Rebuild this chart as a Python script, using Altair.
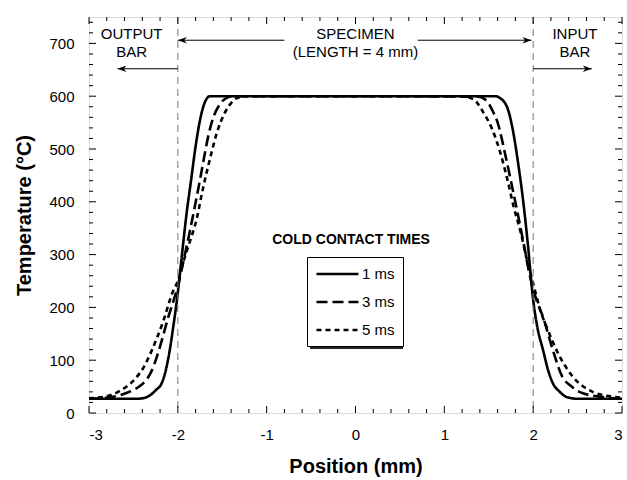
import altair as alt
import pandas as pd

FONT = "Liberation Sans"

# ---- data ----
series_names = ["1 ms", "3 ms", "5 ms"]

s1_x = [-3.0, -2.6, -2.45, -2.37, -2.3, -2.25, -2.18, -2.13, -2.09, -2.05, -2.01, -1.96, -1.90,
        -1.85, -1.80, -1.75, -1.71, -1.68, -1.64, -1.55, 0.0, 1.50, 1.58, 1.63, 1.67, 1.71, 1.77,
        1.83, 1.89, 1.94, 2.0, 2.05, 2.11, 2.17, 2.22, 2.3, 2.38, 2.5, 3.0]
s1_y = [27, 27, 27, 29, 35, 43, 57, 85, 120, 165, 214, 290, 380,
        442, 505, 555, 582, 594, 600, 600, 600, 600, 600, 596, 590, 578, 537,
        474, 398, 320, 214, 160, 120, 80, 57, 40, 30, 27, 27]

s2_x = [-3.0, -2.8, -2.65, -2.52, -2.42, -2.37, -2.30, -2.22, -2.16, -2.11, -2.05, -2.0, -1.94,
        -1.87, -1.81, -1.75, -1.70, -1.65, -1.60, -1.53, -1.45, -1.38, 0.0, 1.38, 1.45, 1.49,
        1.55, 1.60, 1.69, 1.77, 1.84, 1.90, 1.96, 2.0, 2.05, 2.11, 2.22, 2.33, 2.42, 2.52, 2.78, 3.0]
s2_y = [27, 29, 34, 42, 52, 60, 78, 115, 150, 180, 212, 240, 285,
        340, 390, 442, 488, 530, 560, 584, 597, 600, 600, 599, 595, 588,
        570, 550, 486, 423, 366, 315, 262, 235, 208, 182, 120, 68, 52, 40, 30, 27]

s3_x = [-3.0, -2.82, -2.65, -2.48, -2.38, -2.29, -2.17, -2.06, -2.0, -1.94, -1.87, -1.79, -1.72,
        -1.64, -1.56, -1.47, -1.40, -1.34, -1.2, 0.0, 1.20, 1.33, 1.44, 1.54, 1.63, 1.71, 1.78,
        1.86, 1.93, 2.0, 2.08, 2.17, 2.26, 2.45, 2.67, 2.85, 3.0]
s3_y = [28, 31, 42, 65, 88, 120, 171, 228, 250, 285, 322, 366, 423,
        480, 531, 569, 587, 596, 600, 600, 600, 594, 569, 537, 493, 442, 391,
        342, 290, 245, 195, 155, 120, 68, 40, 32, 29]

x_major = [-3, -2, -1, 0, 1, 2, 3]
x_minor = [-2.8, -2.6, -2.4, -2.2, -1.8, -1.6, -1.4, -1.2, -0.8, -0.6, -0.4, -0.2,
           0.2, 0.4, 0.6, 0.8, 1.2, 1.4, 1.6, 1.8, 2.2, 2.4, 2.6, 2.8]
y_major = [0, 100, 200, 300, 400, 500, 600, 700]
y_minor = [20, 40, 60, 80, 120, 140, 160, 180, 220, 240, 260, 280, 320, 340, 360, 380,
           420, 440, 460, 480, 520, 540, 560, 580, 620, 640, 660, 680, 720, 740]

boundary_x = [-2, 2]

arrow_x = [-2.0, 0.7, -2.0, 2.0]
arrow_x2 = [-0.8, 1.98, -2.68, 2.66]
arrow_y = [706, 706, 652, 652]

head_left_x = [-2.0, -2.68]
head_left_y = [706, 652]
head_right_x = [1.98, 2.66]
head_right_y = [706, 652]

note_x = [-2.52, -2.52, 0.0, 0.0, 2.47, 2.47]
note_y = [718, 684, 718, 684, 718, 684]
note_text = ["OUTPUT", "BAR", "SPECIMEN", "(LENGTH = 4 mm)", "INPUT", "BAR"]

legend_title = "COLD CONTACT TIMES"

# ---- tables ----
rows = []
for name, xs_, ys_ in zip(series_names, [s1_x, s2_x, s3_x], [s1_y, s2_y, s3_y]):
    for i, (a, b) in enumerate(zip(xs_, ys_)):
        rows.append({"x": a, "y": b, "series": name, "order": i})
curves = pd.DataFrame(rows)

W, H = 533, 396
xsc = alt.Scale(domain=[-3, 3], nice=False, zero=False)
ysc = alt.Scale(domain=[0, 750], nice=False, zero=False)

X_AX = alt.Axis(
    values=x_major, title="Position (mm)", ticks=False, domain=False, grid=False,
    labelExpr="'' + datum.value", labelFont=FONT, labelFontSize=15, labelColor="black",
    labelPadding=14, titleFont=FONT, titleFontSize=20, titleFontWeight="bold",
    titleColor="black", titlePadding=14)
Y_AX = alt.Axis(
    values=y_major, title="Temperature (°C)", ticks=False, domain=False, grid=False,
    labelFont=FONT, labelFontSize=15, labelColor="black", labelPadding=15,
    titleFont=FONT, titleFontSize=20, titleFontWeight="bold", titleColor="black",
    titlePadding=14)


def X(f):
    return alt.X(f, scale=xsc, axis=X_AX, title="Position (mm)")


def Y(f):
    return alt.Y(f, scale=ysc, axis=Y_AX, title="Temperature (°C)")


lines = alt.Chart(curves).mark_line(color="black", strokeWidth=2.6, interpolate="monotone").encode(
    x=X("x:Q"),
    y=Y("y:Q"),
    strokeDash=alt.StrokeDash("series:N", scale=alt.Scale(
        domain=series_names, range=[[1, 0], [11, 5], [5, 4]]),
        legend=alt.Legend(orient="none", legendX=218, legendY=240, title=None,
                          symbolType="M-1,0H4.6", symbolSize=225, symbolStrokeWidth=2.5,
                          symbolStrokeColor="black", symbolFillColor="transparent",
                          labelFont=FONT, labelFontSize=15,
                          labelColor="black", labelOffset=29, rowPadding=11, padding=8,
                          strokeColor="black", fillColor="white")),
    order="order:Q",
)

shadow = alt.Chart(pd.DataFrame({"k": [0]})).mark_rect(color="#222").encode(
    x=alt.value(221), x2=alt.value(314), y=alt.value(247), y2=alt.value(332))


def tick_layer(values, orient, length):
    df = pd.DataFrame({"v": values})
    base = alt.Chart(df).mark_rule(color="black", strokeWidth=1)
    if orient == "bottom":
        return base.encode(x=X("v:Q"), y=alt.value(H), y2=alt.value(H - length))
    if orient == "top":
        return base.encode(x=X("v:Q"), y=alt.value(0), y2=alt.value(length))
    if orient == "left":
        return base.encode(y=Y("v:Q"), x=alt.value(0), x2=alt.value(length))
    return base.encode(y=Y("v:Q"), x=alt.value(W), x2=alt.value(W - length))


ticks = []
for o in ["bottom", "top"]:
    ticks.append(tick_layer(x_major, o, 7))
    ticks.append(tick_layer(x_minor, o, 4))
for o in ["left", "right"]:
    ticks.append(tick_layer(y_major, o, 7))
    ticks.append(tick_layer(y_minor, o, 4))

bounds = alt.Chart(pd.DataFrame({"x": boundary_x})).mark_rule(
    color="#777", strokeWidth=1, strokeDash=[7, 5]).encode(x=X("x:Q"))

arrows = alt.Chart(pd.DataFrame({"x": arrow_x, "x2": arrow_x2, "y": arrow_y})).mark_rule(
    color="black", strokeWidth=1).encode(x=X("x:Q"), x2="x2:Q", y=Y("y:Q"))

left_head = "M0,0L2,-0.7L1.4,0L2,0.7Z"
right_head = "M0,0L-2,-0.7L-1.4,0L-2,0.7Z"
heads_l = alt.Chart(pd.DataFrame({"x": head_left_x, "y": head_left_y})).mark_point(
    shape=left_head, filled=True, color="black", size=81, opacity=1).encode(
    x=X("x:Q"), y=Y("y:Q"))
heads_r = alt.Chart(pd.DataFrame({"x": head_right_x, "y": head_right_y})).mark_point(
    shape=right_head, filled=True, color="black", size=81, opacity=1).encode(
    x=X("x:Q"), y=Y("y:Q"))

notes = alt.Chart(pd.DataFrame({"x": note_x, "y": note_y, "t": note_text})).mark_text(
    font=FONT, fontSize=15, color="black", align="center", baseline="middle").encode(
    x=X("x:Q"), y=Y("y:Q"), text="t:N")

ltitle = alt.Chart(pd.DataFrame({"x": [-0.05], "y": [328], "t": [legend_title]})).mark_text(
    font=FONT, fontSize=14, fontWeight="bold", color="black", align="center", baseline="middle").encode(
    x=X("x:Q"), y=Y("y:Q"), text="t:N")

chart = alt.layer(lines, bounds, *ticks, arrows, heads_l, heads_r, notes, ltitle, shadow).properties(
    width=W, height=H,
    padding={"left": 89, "top": 17, "right": 5, "bottom": 67},
    autosize=alt.AutoSizeParams(type="none"),
).configure_view(stroke="black", strokeWidth=1.2).configure(background="white")

chart.save("out.html", embed_options={"renderer": "svg", "actions": False})
